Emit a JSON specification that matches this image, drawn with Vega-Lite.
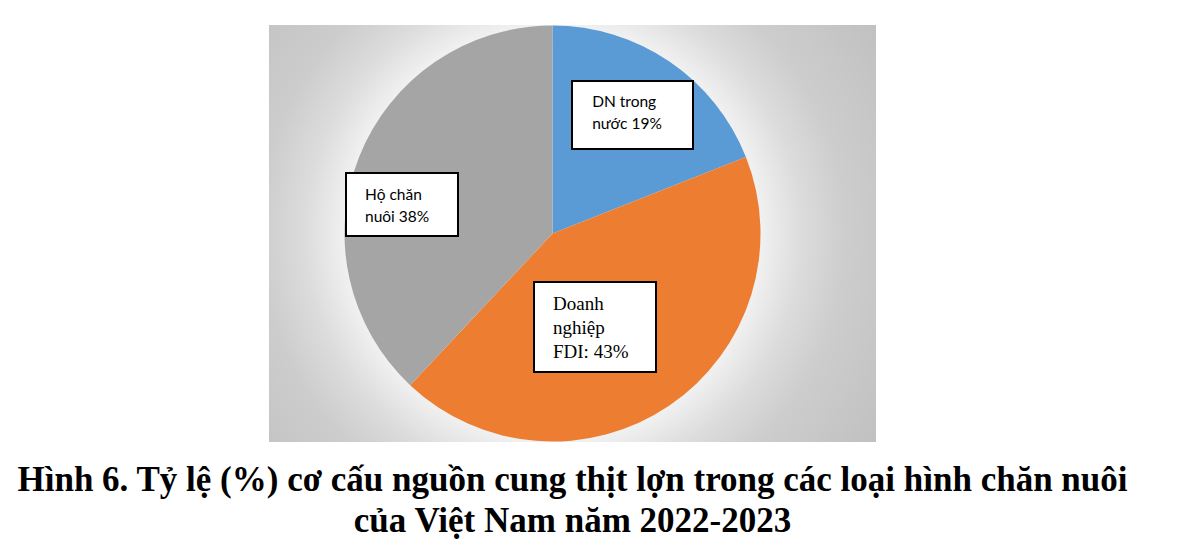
{
  "$schema": "https://vega.github.io/schema/vega-lite/v6.json",
  "width": 607,
  "height": 417,
  "autosize": "none",
  "padding": {"left": 269, "top": 25, "right": 314, "bottom": 115},
  "background": "white",
  "config": {"view": {"stroke": null}},
  "title": {
    "text": ["Hình 6. Tỷ lệ (%) cơ cấu nguồn cung thịt lợn trong các loại hình chăn nuôi", "của Việt Nam năm 2022-2023"],
    "orient": "bottom",
    "anchor": "middle",
    "font": "Liberation Serif",
    "fontSize": 35,
    "fontWeight": "bold",
    "color": "#000000",
    "lineHeight": 41,
    "offset": 21
  },
  "data": {
    "values": [
      {"category": "DN trong nước", "value": 19, "label": ["DN trong", "nước 19%"]},
      {"category": "Doanh nghiệp FDI", "value": 43, "label": ["Doanh", "nghiệp", "FDI: 43%"]},
      {"category": "Hộ chăn nuôi", "value": 38, "label": ["Hộ chăn", "nuôi 38%"]}
    ]
  },
  "layer": [
    {
      "data": {"values": [{"panel": "chart area"}]},
      "mark": {
        "type": "rect",
        "color": {
          "gradient": "radial",
          "x1": 0.468, "y1": 0.5, "r1": 0,
          "x2": 0.468, "y2": 0.5, "r2": 0.65,
          "stops": [
            {"offset": 0, "color": "#ffffff"},
            {"offset": 0.4, "color": "#ffffff"},
            {"offset": 0.53, "color": "#f0f0f0"},
            {"offset": 0.63, "color": "#dcdcdc"},
            {"offset": 0.74, "color": "#cdcdcd"},
            {"offset": 1, "color": "#bfbfbf"}
          ]
        }
      },
      "encoding": {}
    },
    {
      "mark": {"type": "arc", "outerRadius": 208, "xOffset": -20},
      "encoding": {
        "theta": {"field": "value", "type": "quantitative", "stack": true},
        "color": {
          "field": "category",
          "type": "nominal",
          "scale": {
            "domain": ["DN trong nước", "Doanh nghiệp FDI", "Hộ chăn nuôi"],
            "range": ["#5b9bd5", "#ed7d31", "#a5a5a5"]
          },
          "legend": null
        }
      }
    },
    {
      "transform": [{"filter": "datum.category === 'DN trong nước'"}],
      "mark": {"type": "point", "shape": "M-1,-0.562H1V0.562H-1Z", "size": 14641, "filled": true, "fill": "white", "stroke": "black", "strokeWidth": 2, "opacity": 1, "xOffset": 60, "yOffset": -118.5},
      "encoding": {}
    },
    {
      "transform": [{"filter": "datum.category === 'Hộ chăn nuôi'"}],
      "mark": {"type": "point", "shape": "M-1,-0.5625H1V0.5625H-1Z", "size": 12544, "filled": true, "fill": "white", "stroke": "black", "strokeWidth": 2, "opacity": 1, "xOffset": -170.5, "yOffset": -29},
      "encoding": {}
    },
    {
      "transform": [{"filter": "datum.category === 'Doanh nghiệp FDI'"}],
      "mark": {"type": "point", "shape": "M-1,-0.738H1V0.738H-1Z", "size": 14884, "filled": true, "fill": "white", "stroke": "black", "strokeWidth": 2, "opacity": 1, "xOffset": 22.5, "yOffset": 93.5},
      "encoding": {}
    },
    {
      "mark": {"type": "text", "radius": 140, "align": "left", "baseline": "alphabetic", "dx": -59, "dy": -10.7, "font": "Lato", "fontSize": 15.5, "lineHeight": 22, "fill": "black"},
      "encoding": {
        "theta": {"field": "value", "type": "quantitative", "stack": true},
        "detail": {"field": "category"},
        "text": {"condition": {"test": "datum.category === 'DN trong nước'", "field": "label"}, "value": ""}
      }
    },
    {
      "mark": {"type": "text", "radius": 150, "align": "left", "baseline": "alphabetic", "dx": -68, "dy": 21.7, "font": "Lato", "fontSize": 15.5, "lineHeight": 22.5, "fill": "black"},
      "encoding": {
        "theta": {"field": "value", "type": "quantitative", "stack": true},
        "detail": {"field": "category"},
        "text": {"condition": {"test": "datum.category === 'Hộ chăn nuôi'", "field": "label"}, "value": ""}
      }
    },
    {
      "mark": {"type": "text", "radius": 100, "align": "left", "baseline": "alphabetic", "dx": -75.7, "dy": -6.2, "font": "Liberation Serif", "fontSize": 19, "lineHeight": 24, "fill": "black"},
      "encoding": {
        "theta": {"field": "value", "type": "quantitative", "stack": true},
        "detail": {"field": "category"},
        "text": {"condition": {"test": "datum.category === 'Doanh nghiệp FDI'", "field": "label"}, "value": ""}
      }
    }
  ]
}
